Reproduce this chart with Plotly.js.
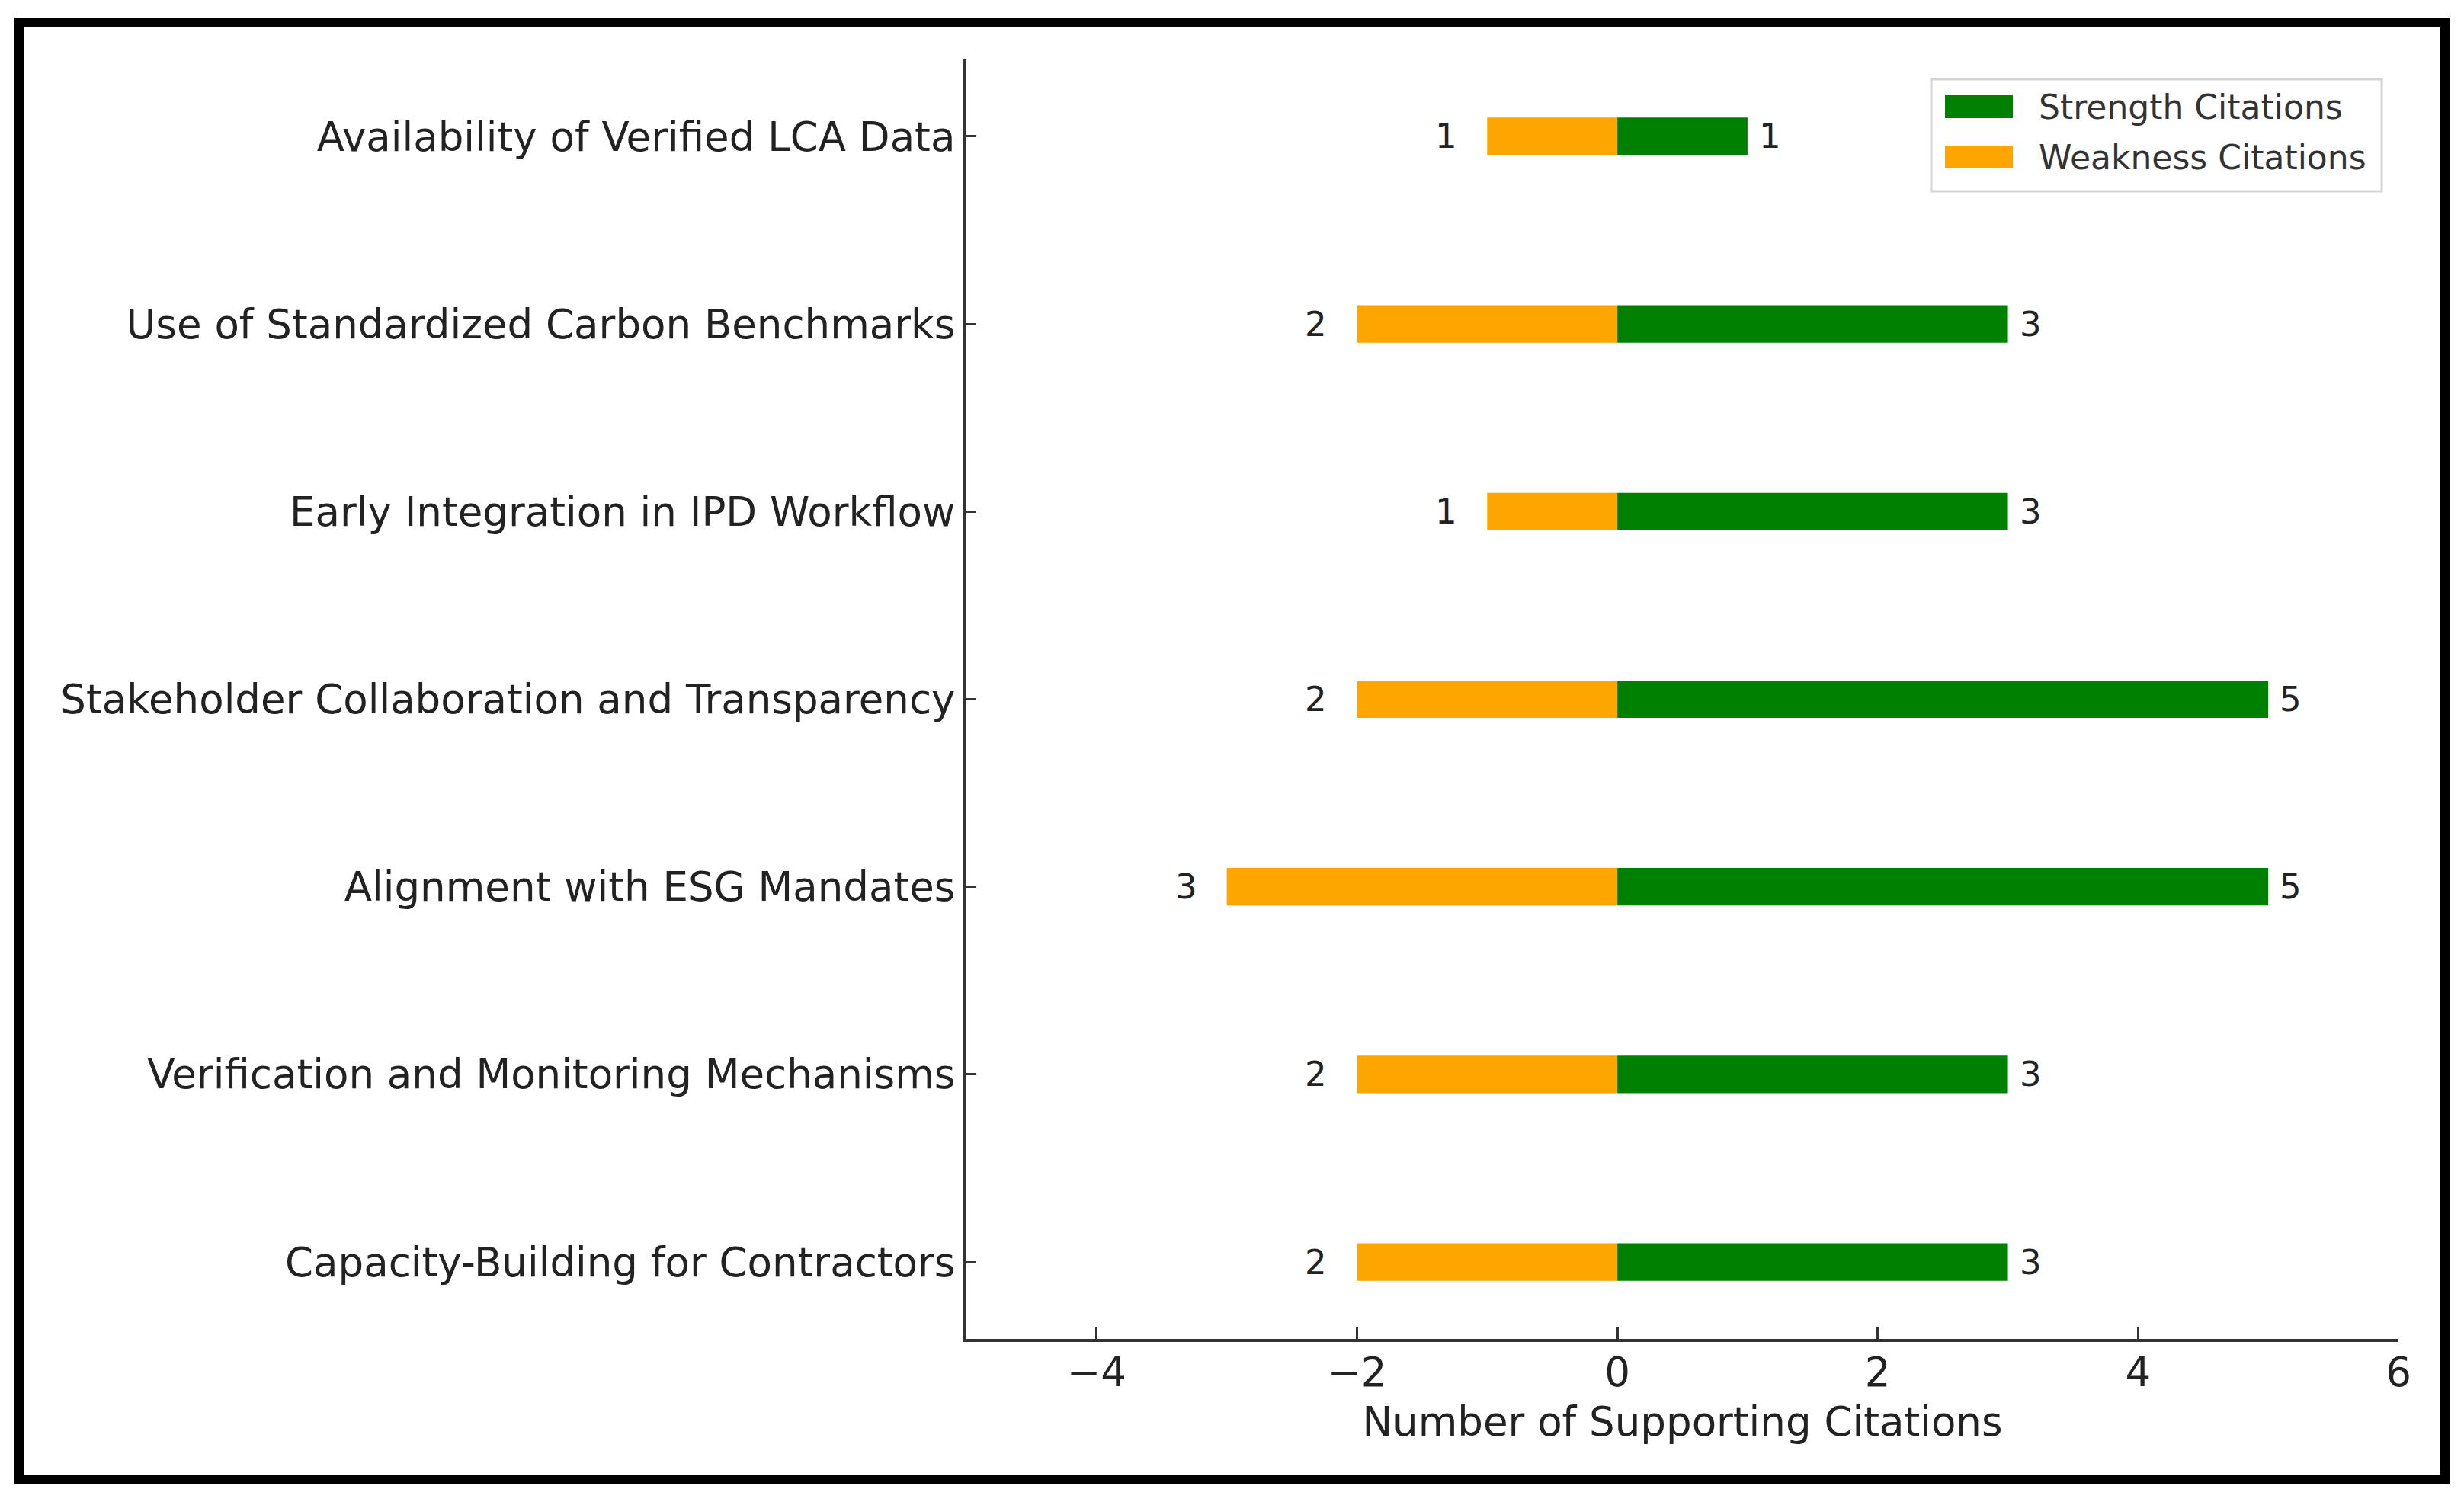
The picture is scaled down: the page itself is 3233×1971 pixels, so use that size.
<!DOCTYPE html>
<html>
<head>
<meta charset="utf-8">
<script src="https://cdn.plot.ly/plotly-3.0.1.min.js"></script>
<style>
  html, body { margin: 0; padding: 0; background: #ffffff; }
  #chart { width: 3233px; height: 1971px; }
</style>
</head>
<body>
<div id="chart"></div>
<script>
// ---- Data ----
const categories = [
  "Availability of Verified LCA Data",
  "Use of Standardized Carbon Benchmarks",
  "Early Integration in IPD Workflow",
  "Stakeholder Collaboration and Transparency",
  "Alignment with ESG Mandates",
  "Verification and Monitoring Mechanisms",
  "Capacity-Building for Contractors"
];
const strengthCitations = [1, 3, 3, 5, 5, 3, 3];
const weaknessCitations = [1, 2, 1, 2, 3, 2, 2];
const seriesNames = ["Strength Citations", "Weakness Citations"];
const seriesColors = ["#008000", "#FFA500"];
const xTickValues = [-4, -2, 0, 2, 4, 6];
const xAxisTitle = "Number of Supporting Citations";

// ---- Layout geometry (pixels) ----
const W = 3233, H = 1971;
const M = { l: 1268, r: 86, t: 78, b: 214 };
const plotW = W - M.l - M.r, plotH = H - M.t - M.b;
const px2x = p => (p - M.l) / plotW;
const py2y = p => (H - M.b - p) / plotH;

const FONT = "DejaVu Sans, Liberation Sans, sans-serif";
const TEXT = "#222222";
const AXIS = "#333333";

const traces = [
  {
    type: "bar", orientation: "h",
    name: seriesNames[0],
    y: categories, x: strengthCitations,
    width: 0.2,
    marker: { color: seriesColors[0], line: { width: 0 } },
    showlegend: false, hoverinfo: "skip"
  },
  {
    type: "bar", orientation: "h",
    name: seriesNames[1],
    y: categories, x: weaknessCitations.map(v => -v),
    width: 0.2,
    marker: { color: seriesColors[1], line: { width: 0 } },
    showlegend: false, hoverinfo: "skip"
  }
];

const annotations = [];
categories.forEach((c, i) => {
  annotations.push({
    x: strengthCitations[i], y: c, xref: "x", yref: "y",
    text: String(strengthCitations[i]), showarrow: false,
    xanchor: "left", yanchor: "middle", xshift: 13,
    font: { family: FONT, size: 45, color: TEXT }
  });
  annotations.push({
    x: -weaknessCitations[i], y: c, xref: "x", yref: "y",
    text: String(weaknessCitations[i]), showarrow: false,
    xanchor: "right", yanchor: "middle", xshift: -37,
    font: { family: FONT, size: 45, color: TEXT }
  });
});

// Manual legend (wide swatches like the reference)
const legBox = { x0: 2534, x1: 3125, y0: 104, y1: 251 };
const rowY = [140, 206];
const shapes = [
  // outer black frame
  { type: "rect", xref: "paper", yref: "paper",
    x0: px2x(25.5), x1: px2x(3208.5), y0: py2y(29.5), y1: py2y(1941.5),
    line: { color: "#000000", width: 13 }, fillcolor: "rgba(0,0,0,0)", layer: "above" },
  // legend frame
  { type: "rect", xref: "paper", yref: "paper",
    x0: px2x(legBox.x0), x1: px2x(legBox.x1), y0: py2y(legBox.y0), y1: py2y(legBox.y1),
    line: { color: "#d4d4d4", width: 3 }, fillcolor: "rgba(255,255,255,0.8)", layer: "above" }
];
seriesNames.forEach((name, k) => {
  shapes.push({ type: "rect", xref: "paper", yref: "paper",
    x0: px2x(2552), x1: px2x(2641), y0: py2y(rowY[k] - 15), y1: py2y(rowY[k] + 15),
    line: { width: 0 }, fillcolor: seriesColors[k], layer: "above" });
  annotations.push({ xref: "paper", yref: "paper",
    x: px2x(2673), y: py2y(rowY[k]), text: name, showarrow: false,
    xanchor: "left", yanchor: "middle",
    font: { family: FONT, size: 44, color: "#333333" } });
});

const layout = {
  width: W, height: H,
  margin: M,
  paper_bgcolor: "#ffffff", plot_bgcolor: "#ffffff",
  barmode: "overlay",
  showlegend: false,
  font: { family: FONT, color: TEXT },
  xaxis: {
    range: [-5, 6],
    tickmode: "array", tickvals: xTickValues,
    ticks: "inside", ticklen: 15, tickwidth: 3, tickcolor: AXIS,
    showline: true, linecolor: AXIS, linewidth: 4,
    showgrid: false, zeroline: false,
    ticklabelstandoff: -6,
    tickfont: { family: FONT, size: 53, color: TEXT },
    title: { text: xAxisTitle, font: { family: FONT, size: 53, color: TEXT }, standoff: 18 },
    fixedrange: true
  },
  yaxis: {
    type: "category",
    categoryorder: "array", categoryarray: categories,
    range: [6.41, -0.41],
    ticks: "inside", ticklen: 13, tickwidth: 3, tickcolor: AXIS,
    showline: true, linecolor: AXIS, linewidth: 4,
    showgrid: false, zeroline: false,
    tickfont: { family: FONT, size: 53, color: TEXT },
    fixedrange: true
  },
  shapes: shapes,
  annotations: annotations
};

Plotly.newPlot("chart", traces, layout, { staticPlot: true, displayModeBar: false });
</script>
</body>
</html>
